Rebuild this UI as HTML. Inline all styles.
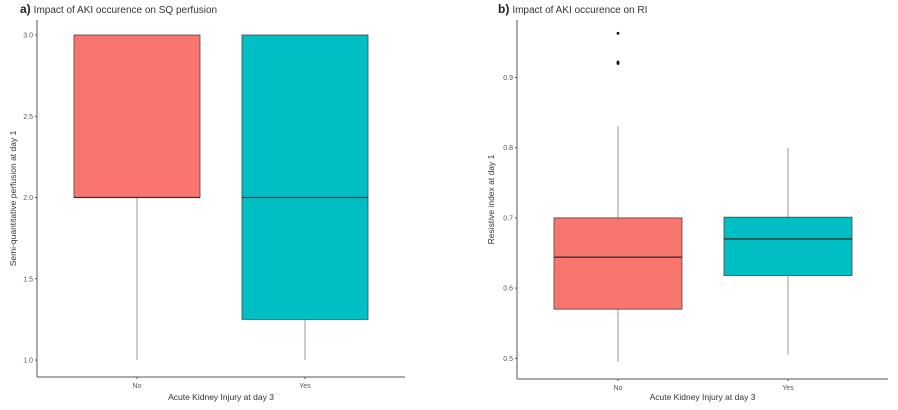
<!DOCTYPE html>
<html><head><meta charset="utf-8"><style>
html,body{margin:0;padding:0;background:#fff;}
svg{display:block;font-family:"Liberation Sans",sans-serif;}
</style></head><body>
<svg id="chart" width="898" height="410" viewBox="0 0 898 410" xmlns="http://www.w3.org/2000/svg"></svg>
<script>
// Panel a data
const aCategories = ["No", "Yes"];
const aMin = [1.0, 1.0];
const aQ1 = [2.0, 1.25];
const aMedian = [2.0, 2.0];
const aQ3 = [3.0, 3.0];
const aMax = [3.0, 3.0];
const aTicks = [1.0, 1.5, 2.0, 2.5, 3.0];
const aTickLabels = ["1.0", "1.5", "2.0", "2.5", "3.0"];
// Panel b data
const bCategories = ["No", "Yes"];
const bMin = [0.495, 0.505];
const bQ1 = [0.570, 0.618];
const bMedian = [0.644, 0.670];
const bQ3 = [0.700, 0.701];
const bMax = [0.831, 0.800];
const bOutliers = [[0.963, 0.922, 0.920], []];
const bTicks = [0.5, 0.6, 0.7, 0.8, 0.9];
const bTickLabels = ["0.5", "0.6", "0.7", "0.8", "0.9"];
const colors = ["#F8766D", "#00BFC4"];

const NS = "http://www.w3.org/2000/svg";
const svg = document.getElementById("chart");
function mk(tag, attrs, parent) {
  const e = document.createElementNS(NS, tag);
  for (const k in attrs) e.setAttribute(k, attrs[k]);
  (parent || svg).appendChild(e);
  return e;
}

function panel(cfg) {
  const g = mk("g", {});
  
  
  const y = v => cfg.y0 - (v - cfg.v0) * cfg.scale;
  const x = i => cfg.xCenters[i];
  // title
  const t = mk("text", {x: cfg.titleX, y: 13, "font-size": 10, fill: "#333"}, g);
  
  
  const tb = mk("tspan", {"font-weight": "bold", "font-size": 12, fill: "#222"}, t);
  tb.textContent = cfg.letter;
  const tr = mk("tspan", {dx: 3}, t);
  tr.textContent = cfg.title;
  // axes
  const ya = mk("line", {x1: cfg.axisX, y1: 20, x2: cfg.axisX, y2: cfg.axisY, stroke: "#555", "stroke-width": 1}, g);
  
  
  const xa = mk("line", {x1: cfg.axisX, y1: cfg.axisY, x2: cfg.axisEnd, y2: cfg.axisY, stroke: "#555", "stroke-width": 1}, g);
  
  
  cfg.ticks.forEach((v, i) => {
    const tk = mk("line", {x1: cfg.axisX - 2, y1: y(v), x2: cfg.axisX, y2: y(v), stroke: "#555"}, g);
    
    
    const tl = mk("text", {x: cfg.axisX - 4, y: y(v) + 2.5, "font-size": 7, fill: "#555", "text-anchor": "end"}, g);
    
    
    tl.textContent = cfg.tickLabels[i];
  });
  // y title
  const yt = mk("text", {x: 0, y: 0, "font-size": 8.5, fill: "#333", "text-anchor": "middle",
    transform: `translate(${cfg.yTitleX},${(20 + cfg.axisY) / 2}) rotate(-90)`}, g);
  
  
  yt.textContent = cfg.yTitle;
  // x title
  const xt = mk("text", {x: (cfg.axisX + cfg.axisEnd) / 2, y: 400, "font-size": 8.5, fill: "#333", "text-anchor": "middle"}, g);
  
  
  xt.textContent = "Acute Kidney Injury at day 3";
  cfg.cats.forEach((c, i) => {
    const cx = x(i);
    const tk = mk("line", {x1: cx, y1: cfg.axisY, x2: cx, y2: cfg.axisY + 2, stroke: "#555"}, g);
    
    
    const tl = mk("text", {x: cx, y: cfg.axisY + 11, "font-size": 7, fill: "#555", "text-anchor": "middle"}, g);
    
    
    tl.textContent = c;
    const w = cfg.boxW;
    const wl = mk("line", {x1: cx, y1: y(cfg.max[i]), x2: cx, y2: y(cfg.min[i]), stroke: "#999", "stroke-width": 1}, g);
    
    
    const r = mk("rect", {x: cx - w / 2, y: y(cfg.q3[i]), width: w, height: y(cfg.q1[i]) - y(cfg.q3[i]),
      fill: colors[i], stroke: "#444", "stroke-width": 0.8}, g);
    
    
    const md = mk("line", {x1: cx - w / 2, y1: y(cfg.med[i]), x2: cx + w / 2, y2: y(cfg.med[i]), stroke: "#333", "stroke-width": 1.3}, g);
    
    
    (cfg.outliers ? cfg.outliers[i] : []).forEach(v => {
      const p = mk("circle", {cx: cx, cy: y(v), r: 1.4, fill: "#111"}, g);
      
      
    });
  });
}

panel({name: "panel-a", letter: "a)", title: "Impact of AKI occurence on SQ perfusion", titleX: 20,
  axisX: 37, axisY: 377, axisEnd: 405, y0: 360, v0: 1.0, scale: 162.5,
  xCenters: [137, 305], boxW: 126, yTitleX: 16, yTitle: "Semi-quantitative perfusion at day 1",
  ticks: aTicks, tickLabels: aTickLabels, cats: aCategories,
  min: aMin, q1: aQ1, med: aMedian, q3: aQ3, max: aMax});

panel({name: "panel-b", letter: "b)", title: "Impact of AKI occurence on RI", titleX: 498,
  axisX: 517, axisY: 379, axisEnd: 888, y0: 358.3, v0: 0.5, scale: 702,
  xCenters: [618, 788], boxW: 128, yTitleX: 494, yTitle: "Resistive index at day 1",
  ticks: bTicks, tickLabels: bTickLabels, cats: bCategories,
  min: bMin, q1: bQ1, med: bMedian, q3: bQ3, max: bMax, outliers: bOutliers});
</script>
</body></html>
